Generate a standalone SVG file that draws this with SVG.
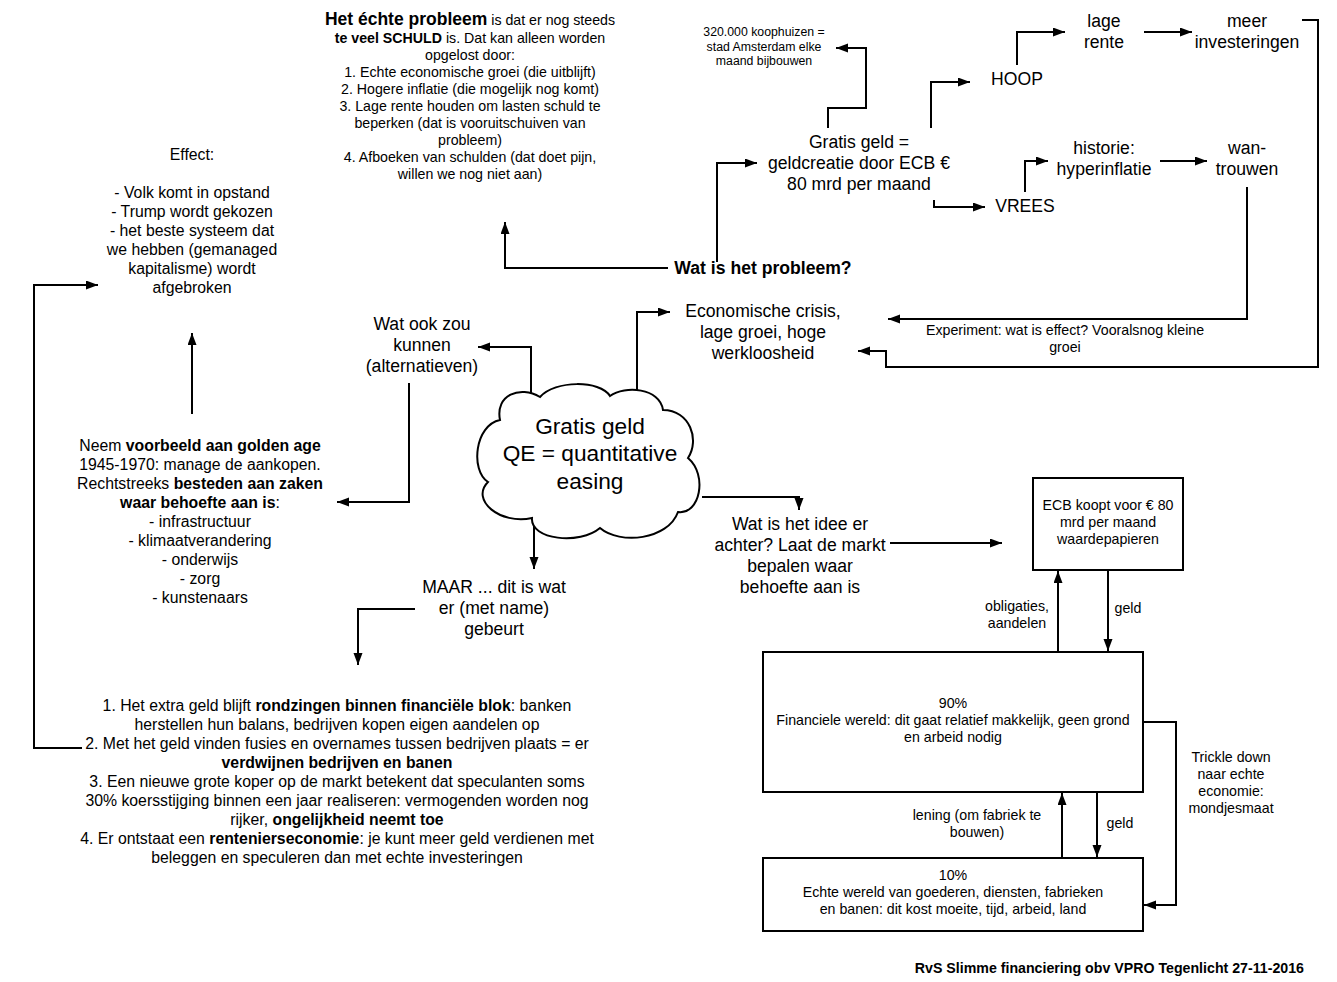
<svg xmlns="http://www.w3.org/2000/svg" width="1337" height="982" viewBox="0 0 1337 982">
<defs>
<marker id="ah" markerUnits="userSpaceOnUse" markerWidth="13" markerHeight="10" refX="12" refY="4.5" orient="auto">
<path d="M0,0 L12,4.5 L0,9 z" fill="#000"/>
</marker>
<style>
text{font-family:"Liberation Sans",Arial,sans-serif;fill:#000;text-anchor:middle}
.t11{font-size:12.3px}
.t13{font-size:14.2px}
.t15{font-size:15.8px}
.t16{font-size:17.6px}
.t17{font-size:17.6px}
.b{font-weight:bold}
.box{fill:#fff;stroke:#000;stroke-width:2}
.c path{fill:none;stroke:#000;stroke-width:2;marker-end:url(#ah)}
</style>
</defs>
<rect width="1337" height="982" fill="#fff"/>

<g id="connectors" class="c">
<path d="M531,395 V347 H478"/>
<path d="M637,391 V312 H670"/>
<path d="M702,497 H799 V510"/>
<path d="M534,521 V569"/>
<path d="M415,609 H358 V665"/>
<path d="M409,383 V502 H337"/>
<path d="M192,414 V333"/>
<path d="M82,748 H34 V285 H98"/>
<path d="M668,268 H505 V222"/>
<path d="M717,262 V163 H757"/>
<path d="M828,128 V108 H866 V48 H836"/>
<path d="M931,128 V82 H970"/>
<path d="M934,200 V207 H985"/>
<path d="M1017,65 V32 H1065"/>
<path d="M1144,32 H1192"/>
<path d="M1302,20 H1318 V367 H886 V351 H858"/>
<path d="M1247,187 V319 H888"/>
<path d="M1025,192 V161 H1048"/>
<path d="M1160,161 H1207"/>
<path d="M890,543 H1002"/>
<path d="M1058,652 V571"/>
<path d="M1108,570 V651"/>
<path d="M1062,858 V793"/>
<path d="M1097,793 V857"/>
<path d="M1144,722 H1176 V905 H1144"/>
</g>

<g id="cloud">
<path class="box" d="M500,420 C495,395 520,385 540,397 C555,380 600,380 610,396 C625,385 660,388 663,410 C690,410 700,440 688,458 C708,475 700,515 678,512 C668,540 620,545 600,528 C580,545 530,540 532,518 C500,525 470,500 488,482 C470,470 475,425 500,420 Z"/>
<text style="font-size:22.7px" x="590" y="434">Gratis geld</text>
<text style="font-size:22.7px" x="590" y="461">QE = quantitative</text>
<text style="font-size:22.7px" x="590" y="489">easing</text>
</g>

<g id="probleem-tekst" class="t13">
<text x="470" y="25"><tspan class="b" style="font-size:17.5px">Het échte probleem</tspan> is dat er nog steeds</text>
<text x="470" y="43"><tspan class="b">te veel SCHULD</tspan> is. Dat kan alleen worden</text>
<text x="470" y="60">opgelost door:</text>
<text x="470" y="77">1. Echte economische groei (die uitblijft)</text>
<text x="470" y="94">2. Hogere inflatie (die mogelijk nog komt)</text>
<text x="470" y="111">3. Lage rente houden om lasten schuld te</text>
<text x="470" y="128">beperken (dat is vooruitschuiven van</text>
<text x="470" y="145">probleem)</text>
<text x="470" y="162">4. Afboeken van schulden (dat doet pijn,</text>
<text x="470" y="179">willen we nog niet aan)</text>
</g>

<g id="effect" class="t15">
<text x="192" y="160">Effect:</text>
<text x="192" y="198">- Volk komt in opstand</text>
<text x="192" y="217">- Trump wordt gekozen</text>
<text x="192" y="236">- het beste systeem dat</text>
<text x="192" y="255">we hebben (gemanaged</text>
<text x="192" y="274">kapitalisme) wordt</text>
<text x="192" y="293">afgebroken</text>
</g>

<g id="golden-age" class="t15">
<text x="200" y="451">Neem <tspan class="b">voorbeeld aan golden age</tspan></text>
<text x="200" y="470">1945-1970: manage de aankopen.</text>
<text x="200" y="489">Rechtstreeks <tspan class="b">besteden aan zaken</tspan></text>
<text x="200" y="508"><tspan class="b">waar behoefte aan is</tspan>:</text>
<text x="200" y="527">- infrastructuur</text>
<text x="200" y="546">- klimaatverandering</text>
<text x="200" y="565">- onderwijs</text>
<text x="200" y="584">- zorg</text>
<text x="200" y="603">- kunstenaars</text>
</g>

<g id="gebeurt-lijst" class="t15">
<text x="337" y="711">1. Het extra geld blijft <tspan class="b">rondzingen binnen financiële blok</tspan>: banken</text>
<text x="337" y="730">herstellen hun balans, bedrijven kopen eigen aandelen op</text>
<text x="337" y="749">2. Met het geld vinden fusies en overnames tussen bedrijven plaats = er</text>
<text x="337" y="768" class="b">verdwijnen bedrijven en banen</text>
<text x="337" y="787">3. Een nieuwe grote koper op de markt betekent dat speculanten soms</text>
<text x="337" y="806">30% koersstijging binnen een jaar realiseren: vermogenden worden nog</text>
<text x="337" y="825">rijker, <tspan class="b">ongelijkheid neemt toe</tspan></text>
<text x="337" y="844">4. Er ontstaat een <tspan class="b">rentenierseconomie</tspan>: je kunt meer geld verdienen met</text>
<text x="337" y="863">beleggen en speculeren dan met echte investeringen</text>
</g>

<g id="alternatieven" class="t16">
<text x="422" y="330">Wat ook zou</text>
<text x="422" y="351">kunnen</text>
<text x="422" y="372">(alternatieven)</text>
</g>

<g id="maar" class="t16">
<text x="494" y="593">MAAR ... dit is wat</text>
<text x="494" y="614">er (met name)</text>
<text x="494" y="635">gebeurt</text>
</g>

<g id="idee" class="t16">
<text x="800" y="530">Wat is het idee er</text>
<text x="800" y="551">achter? Laat de markt</text>
<text x="800" y="572">bepalen waar</text>
<text x="800" y="593">behoefte aan is</text>
</g>

<g id="crisis" class="t16">
<text x="763" y="317">Economische crisis,</text>
<text x="763" y="338">lage groei, hoge</text>
<text x="763" y="359">werkloosheid</text>
</g>

<g id="wat-probleem">
<text class="t16 b" x="763" y="274">Wat is het probleem?</text>
</g>

<g id="gratis-geld-ecb" class="t17">
<text x="859" y="148">Gratis geld =</text>
<text x="859" y="169">geldcreatie door ECB €</text>
<text x="859" y="190">80 mrd per maand</text>
</g>

<g id="koophuizen" class="t11">
<text x="764" y="36">320.000 koophuizen =</text>
<text x="764" y="51">stad Amsterdam elke</text>
<text x="764" y="65">maand bijbouwen</text>
</g>

<g id="hoop"><text class="t16" x="1017" y="85">HOOP</text></g>
<g id="vrees"><text class="t16" x="1025" y="212">VREES</text></g>
<g id="lage-rente" class="t16">
<text x="1104" y="27">lage</text>
<text x="1104" y="48">rente</text>
</g>
<g id="meer-investeringen" class="t16">
<text x="1247" y="27">meer</text>
<text x="1247" y="48">investeringen</text>
</g>
<g id="historie" class="t16">
<text x="1104" y="154">historie:</text>
<text x="1104" y="175">hyperinflatie</text>
</g>
<g id="wantrouwen" class="t16">
<text x="1247" y="154">wan-</text>
<text x="1247" y="175">trouwen</text>
</g>

<g id="experiment-label" class="t13">
<text x="1065" y="335">Experiment: wat is effect? Vooralsnog kleine</text>
<text x="1065" y="352">groei</text>
</g>

<g id="ecb-box" class="t13">
<rect class="box" x="1033" y="478" width="150" height="92"/>
<text x="1108" y="510">ECB koopt voor € 80</text>
<text x="1108" y="527">mrd per maand</text>
<text x="1108" y="544">waardepapieren</text>
</g>

<g id="financiele-wereld" class="t13">
<rect class="box" x="763" y="652" width="380" height="140"/>
<text x="953" y="708">90%</text>
<text x="953" y="725">Financiele wereld: dit gaat relatief makkelijk, geen grond</text>
<text x="953" y="742">en arbeid nodig</text>
</g>

<g id="echte-wereld" class="t13">
<rect class="box" x="763" y="858" width="380" height="73"/>
<text x="953" y="880">10%</text>
<text x="953" y="897">Echte wereld van goederen, diensten, fabrieken</text>
<text x="953" y="914">en banen: dit kost moeite, tijd, arbeid, land</text>
</g>

<g id="edge-labels" class="t13">
<text x="1017" y="611">obligaties,</text>
<text x="1017" y="628">aandelen</text>
<text x="1128" y="613">geld</text>
<text x="977" y="820">lening (om fabriek te</text>
<text x="977" y="837">bouwen)</text>
<text x="1120" y="828">geld</text>
<text x="1231" y="762">Trickle down</text>
<text x="1231" y="779">naar echte</text>
<text x="1231" y="796">economie:</text>
<text x="1231" y="813">mondjesmaat</text>
</g>

<g id="footer">
<text class="t13 b" style="text-anchor:end" x="1304" y="973">RvS Slimme financiering obv VPRO Tegenlicht 27-11-2016</text>
</g>
</svg>
